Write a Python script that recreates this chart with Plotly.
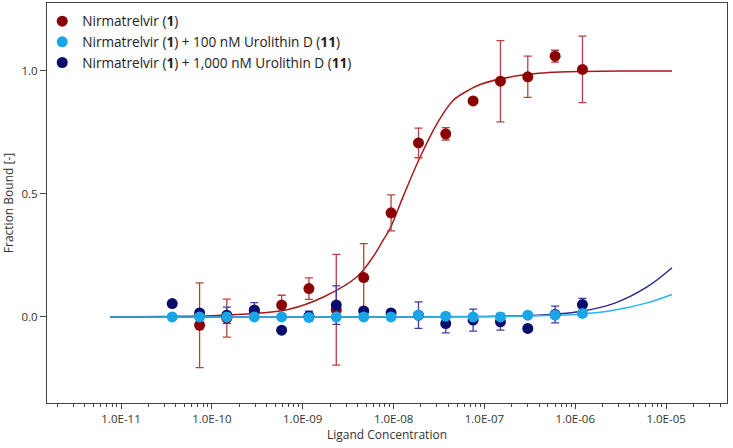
import plotly.graph_objects as go

# 2-fold dilution series of ligand (M)
conc = [3.66e-11, 7.32e-11, 1.46e-10, 2.93e-10, 5.86e-10, 1.17e-9, 2.34e-9, 4.69e-9,
        9.38e-9, 1.88e-8, 3.75e-8, 7.5e-8, 1.5e-7, 3.0e-7, 6.0e-7, 1.2e-6]

nirm = [None, -0.034, -0.005, 0.024, 0.048, 0.115, 0.029, 0.16,
        0.423, 0.707, 0.744, 0.878, 0.958, 0.976, 1.06, 1.006]
nirm_err = [0, 0.172, 0.077, 0.01, 0.04, 0.044, 0.225, 0.138,
            0.073, 0.06, 0.025, 0.005, 0.165, 0.084, 0.024, 0.135]

uro100 = [0.0, 0.0, 0.0, 0.0, 0.0, -0.002, 0.0, 0.0,
          0.0, 0.007, 0.003, 0.0, 0.0, 0.007, 0.007, 0.014]
uro100_err = [0.004, 0.004, 0.004, 0.004, 0.004, 0.004, 0.004, 0.004,
              0.004, 0.004, 0.004, 0.004, 0.004, 0.004, 0.004, 0.004]

uro1000 = [0.054, 0.016, 0.007, 0.028, -0.054, 0.003, 0.048, 0.024,
           0.016, 0.007, -0.027, -0.013, -0.02, -0.047, 0.01, 0.05]
uro1000_err = [0, 0.01, 0.033, 0.03, 0.01, 0.02, 0.078, 0.012,
               0.01, 0.054, 0.038, 0.045, 0.034, 0, 0.034, 0.025]

# fitted curves
nirm_fit_conc = [7.6e-12, 3.2e-11, 1.0e-10, 3.2e-10, 6.9e-10, 1.67e-9, 3.96e-9, 5.94e-9,
                 7.67e-9, 9.16e-9, 1.27e-8, 1.96e-8, 3.01e-8, 4.52e-8, 6.95e-8, 8.95e-8,
                 2.5e-7, 5.0e-7, 1.26e-6, 3.16e-6, 1.16e-5]
nirm_fit = [0.0, 0.002, 0.005, 0.015, 0.03, 0.08, 0.163, 0.244,
            0.312, 0.36, 0.488, 0.65, 0.786, 0.88, 0.925, 0.945,
            0.982, 0.993, 0.998, 1.0, 1.0]

uro_fit_conc = [7.6e-12, 1e-8, 1e-7, 3.16e-7, 6.3e-7, 1.13e-6, 2.63e-6, 6.17e-6, 1.16e-5]
uro100_fit = [0.0, 0.0, 0.001, 0.004, 0.007, 0.011, 0.027, 0.057, 0.091]
uro1000_fit = [0.0, 0.0, 0.002, 0.006, 0.012, 0.022, 0.054, 0.122, 0.2]

x_tick_vals = [1e-11, 1e-10, 1e-9, 1e-8, 1e-7, 1e-6, 1e-5]
x_tick_text = ['1.0E-11', '1.0E-10', '1.0E-09', '1.0E-08', '1.0E-07', '1.0E-06', '1.0E-05']

red, red_line, red_err = '#8b0000', '#a31b1b', '#b84040'
cyan, cyan_line = '#1aa6e6', '#2ab4f0'
navy, navy_line, navy_err = '#0b0b6b', '#2b2b8f', '#3c3ca6'

fig = go.Figure()
fig.add_trace(go.Scatter(x=nirm_fit_conc, y=nirm_fit, mode='lines', line=dict(color=red_line, width=1.5, shape='spline'), showlegend=False))
fig.add_trace(go.Scatter(x=uro_fit_conc, y=uro1000_fit, mode='lines', line=dict(color=navy_line, width=1.5, shape='spline'), showlegend=False))
fig.add_trace(go.Scatter(x=uro_fit_conc, y=uro100_fit, mode='lines', line=dict(color=cyan_line, width=1.5, shape='spline'), showlegend=False))

fig.add_trace(go.Scatter(x=conc, y=nirm, mode='markers', name='Nirmatrelvir (<b>1</b>)', legendrank=1,
                         marker=dict(color=red, size=11),
                         error_y=dict(type='data', array=nirm_err, color=red_err, thickness=1.3, width=4)))
fig.add_trace(go.Scatter(x=conc, y=uro1000, mode='markers', name='Nirmatrelvir (<b>1</b>) + 1,000 nM Urolithin D (<b>11</b>)', legendrank=3,
                         marker=dict(color=navy, size=11),
                         error_y=dict(type='data', array=uro1000_err, color=navy_err, thickness=1.3, width=4)))
fig.add_trace(go.Scatter(x=conc, y=uro100, mode='markers', name='Nirmatrelvir (<b>1</b>) + 100 nM Urolithin D (<b>11</b>)', legendrank=2,
                         marker=dict(color=cyan, size=11),
                         error_y=dict(type='data', array=uro100_err, color=cyan, thickness=1.3, width=4)))

minor_vals = [m * 10.0 ** e for e in range(-12, -4) for m in range(2, 10)]

fig.update_layout(
    width=733, height=448,
    margin=dict(l=47, r=6, t=3, b=45),
    plot_bgcolor='white', paper_bgcolor='white',
    font=dict(family='Open Sans', size=11.5, color='#333333'),
    legend=dict(x=-0.007, y=0.993, xanchor='left', yanchor='top', bgcolor='rgba(0,0,0,0)',
                font=dict(size=13.6, color='#222222'), tracegroupgap=0, itemwidth=30),
)
fig.update_xaxes(type='log', range=[-11.815, -4.33], tickvals=x_tick_vals, ticktext=x_tick_text,
                 ticks='outside', ticklen=5, tickcolor='#444', showgrid=False, zeroline=False,
                 showline=True, linecolor='#444', linewidth=1, mirror=True,
                 minor=dict(tickvals=minor_vals, ticks='outside', ticklen=3, tickcolor='#444', showgrid=False),
                 title=dict(text='Ligand Concentration', standoff=5, font=dict(size=12)))
fig.update_yaxes(range=[-0.35, 1.276], tickvals=[0, 0.5, 1.0], ticktext=['0.0', '0.5', '1.0'],
                 ticks='outside', ticklen=6, tickcolor='#444', showgrid=False, zeroline=False,
                 showline=True, linecolor='#444', linewidth=1, mirror=True,
                 title=dict(text='Fraction Bound [-]', standoff=8, font=dict(size=12)))

fig.write_html("out.html", config={'displayModeBar': False},
               post_script="document.body.style.margin='0';")
